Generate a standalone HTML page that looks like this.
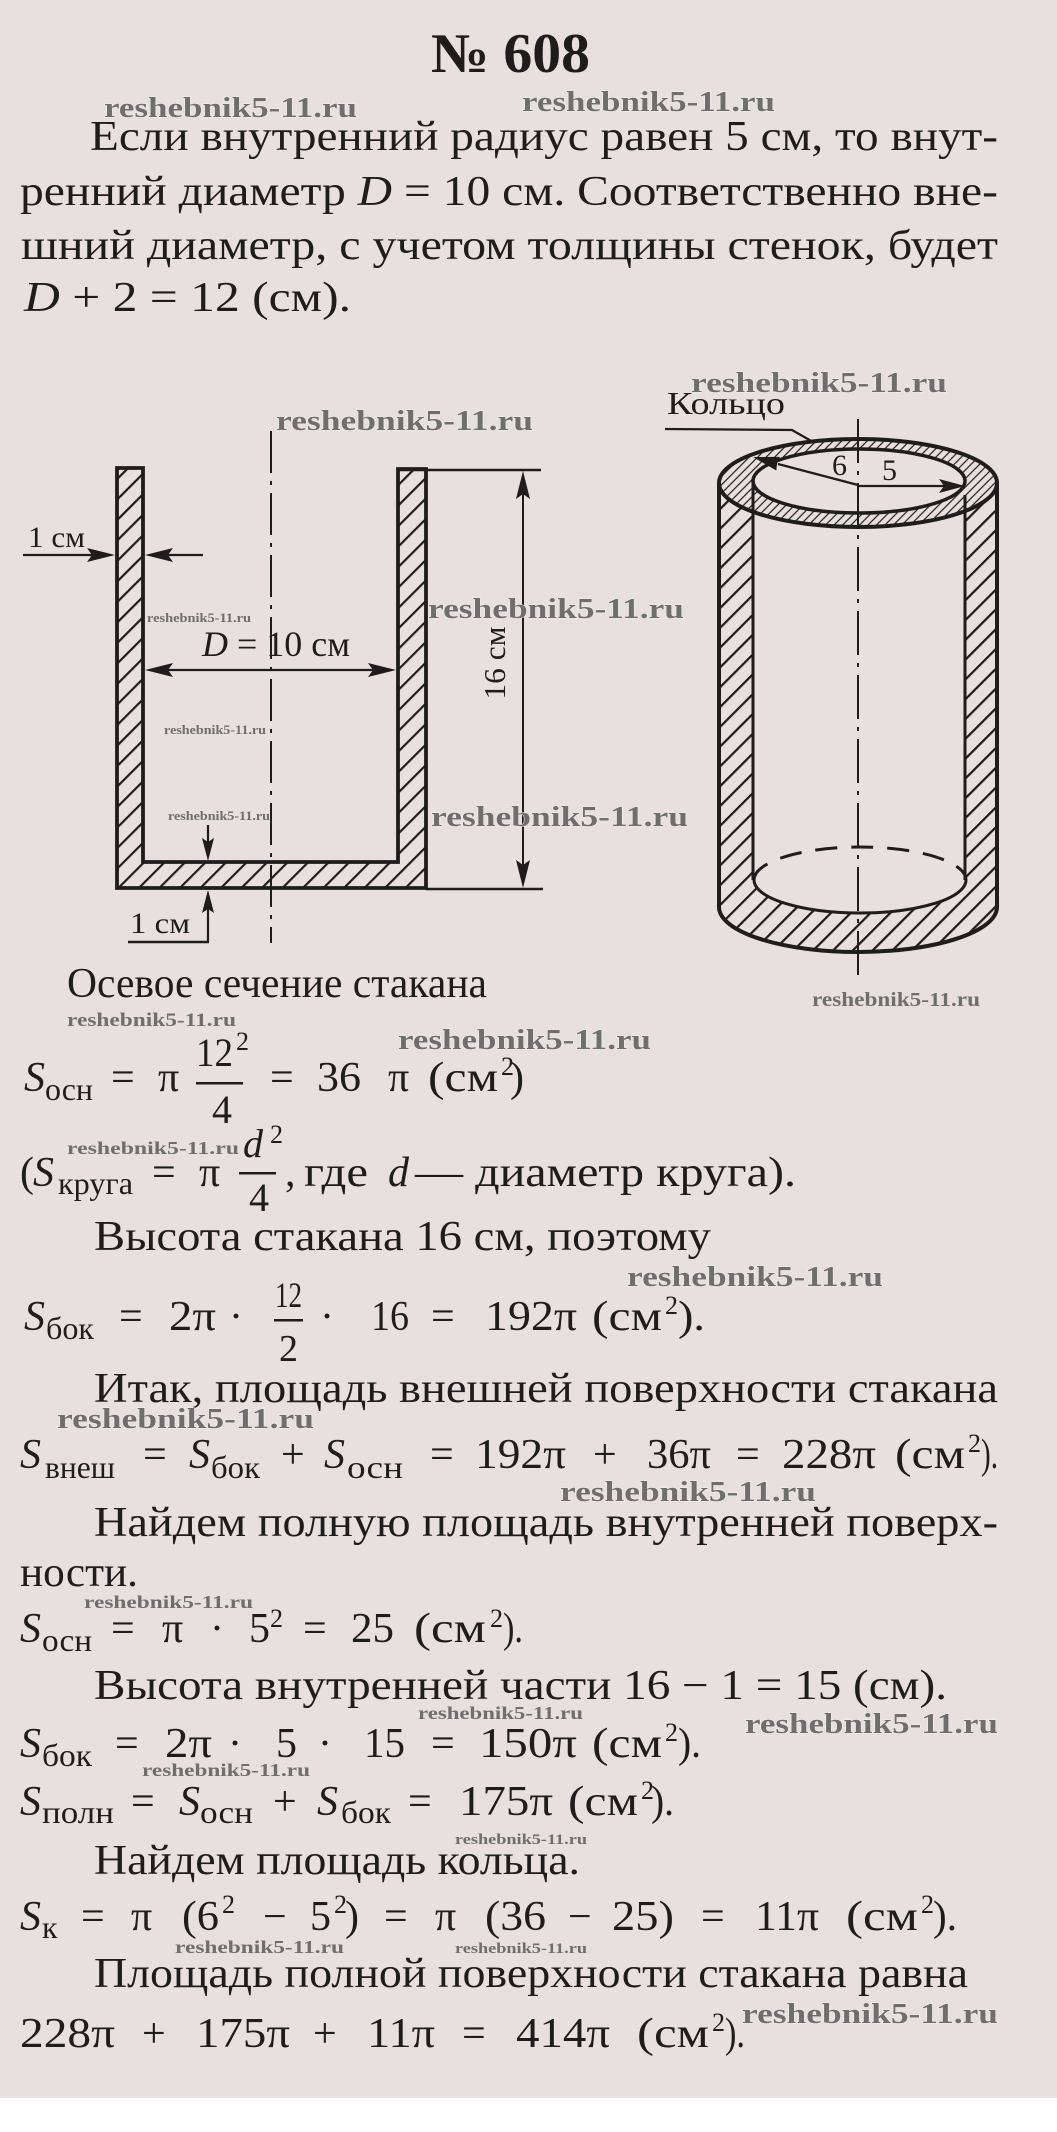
<!DOCTYPE html>
<html>
<head>
<meta charset="utf-8">
<style>
html,body{margin:0;padding:0;background:#e7e0de;}
svg{display:block;}
</style>
</head>
<body>
<svg width="1057" height="2132" viewBox="0 0 1057 2132" xmlns="http://www.w3.org/2000/svg" font-family="'Liberation Serif', serif">
<defs>
  <pattern id="h1" width="14.5" height="14.5" patternUnits="userSpaceOnUse" patternTransform="rotate(45)">
    <line x1="1" y1="0" x2="1" y2="14.5" stroke="#1e1c1c" stroke-width="2.4"/>
  </pattern>
  <pattern id="h2" width="14" height="14" patternUnits="userSpaceOnUse" patternTransform="rotate(45)">
    <line x1="1" y1="0" x2="1" y2="14" stroke="#1e1c1c" stroke-width="2.5"/>
  </pattern>
  <pattern id="h3" width="6" height="6" patternUnits="userSpaceOnUse" patternTransform="rotate(45)">
    <line x1="1" y1="0" x2="1" y2="6" stroke="#1e1c1c" stroke-width="1.2"/>
  </pattern>
  <mask id="wallMask" maskUnits="userSpaceOnUse" x="0" y="0" width="1057" height="2132">
    <path d="M719,483 L997,483 L997,907 A139,45 0 0 1 719,907 Z" fill="#fff"/>
    <ellipse cx="858" cy="483" rx="139" ry="44" fill="#000"/>
    <rect x="753" y="470" width="212" height="410" fill="#000"/>
    <ellipse cx="860" cy="880" rx="106" ry="33" fill="#000"/>
  </mask>
  <mask id="ringMask" maskUnits="userSpaceOnUse" x="0" y="0" width="1057" height="2132">
    <ellipse cx="858" cy="483" rx="139" ry="44" fill="#fff"/>
    <ellipse cx="859" cy="481" rx="106" ry="32" fill="#000"/>
  </mask>
</defs>

<rect x="0" y="0" width="1057" height="2132" fill="#e7e0de"/>
<rect x="0" y="2098" width="1057" height="34" fill="#ffffff"/>

<!-- ===== Left diagram ===== -->
<g stroke="#1e1c1c" fill="none">
  <polygon points="117,468 117,888 426,888 426,469 398,469 398,862 143,862 143,468" fill="url(#h1)" stroke-width="3.8" stroke-linejoin="miter"/>
  <line x1="398" y1="470" x2="541" y2="470" stroke-width="2.6"/>
  <line x1="426" y1="889" x2="543" y2="889" stroke-width="2.6"/>
  <line x1="523" y1="475" x2="523" y2="884" stroke-width="2"/>
  <line x1="271" y1="431" x2="271" y2="943" stroke-width="2" stroke-dasharray="42 8 4 8"/>
  <line x1="23" y1="555" x2="100" y2="555" stroke-width="2.2"/>
  <line x1="160" y1="555" x2="203" y2="555" stroke-width="2.2"/>
  <line x1="150" y1="670" x2="391" y2="670" stroke-width="2.2"/>
  <line x1="208" y1="825" x2="208" y2="846" stroke-width="2.2"/>
  <line x1="208" y1="905" x2="208" y2="942" stroke-width="2.2"/>
  <line x1="128" y1="942" x2="209" y2="942" stroke-width="2.6"/>
</g>
<g fill="#1e1c1c">
  <polygon points="115,555 87,548 92,555 87,562"/>
  <polygon points="145,555 173,548 168,555 173,562"/>
  <polygon points="145,670 173,663 168,670 173,677"/>
  <polygon points="396,670 368,663 373,670 368,677"/>
  <polygon points="523,471 516,499 523,494 530,499"/>
  <polygon points="523,888 516,860 523,865 530,860"/>
  <polygon points="208,861 202,838 208,842 214,838"/>
  <polygon points="208,890 202,913 208,909 214,913"/>
</g>
<g fill="#1e1c1c">
  <text x="28" y="547" font-size="30" textLength="57" lengthAdjust="spacingAndGlyphs">1 см</text>
  <text x="130" y="933" font-size="30" textLength="60" lengthAdjust="spacingAndGlyphs">1 см</text>
  <text x="202" y="656" font-size="36" textLength="148" lengthAdjust="spacingAndGlyphs"><tspan font-style="italic">D</tspan> = 10 см</text>
  <text transform="translate(505,663) rotate(-90)" x="0" y="0" font-size="31" text-anchor="middle" textLength="73" lengthAdjust="spacingAndGlyphs">16 см</text>
  <text x="67" y="997" font-size="42" textLength="420" lengthAdjust="spacingAndGlyphs">Осевое сечение стакана</text>
</g>

<!-- ===== Cylinder ===== -->
<rect x="700" y="420" width="320" height="560" fill="url(#h2)" mask="url(#wallMask)"/>
<rect x="700" y="420" width="320" height="130" fill="url(#h3)" mask="url(#ringMask)"/>
<g stroke="#1e1c1c" fill="none">
  <ellipse cx="858" cy="483" rx="139" ry="44" stroke-width="4"/>
  <ellipse cx="859" cy="481" rx="106" ry="32" stroke-width="3.5"/>
  <line x1="719" y1="483" x2="719" y2="907" stroke-width="4"/>
  <line x1="997" y1="483" x2="997" y2="907" stroke-width="4"/>
  <path d="M719,907 A139,45 0 0 0 997,907" stroke-width="4"/>
  <line x1="753" y1="481" x2="753" y2="880" stroke-width="3"/>
  <line x1="965" y1="495" x2="965" y2="880" stroke-width="3"/>
  <path d="M754,880 A106,33 0 0 1 966,880" stroke-width="3" stroke-dasharray="22 14"/>
  <path d="M754,880 A106,33 0 0 0 966,880" stroke-width="3"/>
  <line x1="858" y1="419" x2="858" y2="978" stroke-width="2" stroke-dasharray="44 8 4 8"/>
  <line x1="858" y1="485" x2="778" y2="464" stroke-width="2.2"/>
  <line x1="858" y1="486" x2="944" y2="486" stroke-width="2.2"/>
  <polyline points="665,429 792,430 813,442" stroke-width="2.2"/>
</g>
<g fill="#1e1c1c">
  <polygon points="753,457 779.9,456.9 777,464 776.3,470.5"/>
  <polygon points="965,486 939,479 944,486 939,493"/>
  <text x="667" y="414" font-size="32" textLength="118" lengthAdjust="spacingAndGlyphs">Кольцо</text>
  <text x="832" y="475" font-size="30">6</text>
  <text x="882" y="480" font-size="30">5</text>
</g>

<!-- ===== Text ===== -->
<g fill="#1e1c1c" font-size="42">
  <text x="431" y="72" font-size="56" font-weight="bold" textLength="159" lengthAdjust="spacingAndGlyphs">№ 608</text>

  <text x="90" y="150" textLength="908" lengthAdjust="spacingAndGlyphs">Если внутренний радиус равен  5 см, то внут-</text>
  <text x="20" y="205" textLength="978" lengthAdjust="spacingAndGlyphs">ренний диаметр <tspan font-style="italic">D</tspan> = 10 см. Соответственно вне-</text>
  <text x="21" y="259" textLength="977" lengthAdjust="spacingAndGlyphs">шний диаметр, с учетом толщины стенок, будет</text>
  <text x="24" y="311" textLength="327" lengthAdjust="spacingAndGlyphs"><tspan font-style="italic">D</tspan> + 2 = 12 (см).</text>

  <!-- F1 -->
  <text x="24" y="1091" font-style="italic">S</text>
  <text x="45" y="1100" font-size="32" textLength="48" lengthAdjust="spacingAndGlyphs">осн</text>
  <text x="111" y="1091">=</text>
  <text x="158" y="1091">π</text>
  <text x="196" y="1066" font-size="40" textLength="37" lengthAdjust="spacingAndGlyphs">12</text>
  <text x="236" y="1050" font-size="26">2</text>
  <rect x="196" y="1082" width="47" height="2.5"/>
  <text x="212" y="1123" font-size="40">4</text>
  <text x="270" y="1091">=</text>
  <text x="317" y="1091" textLength="44" lengthAdjust="spacingAndGlyphs">36</text>
  <text x="388" y="1091">π</text>
  <text x="428" y="1091" textLength="70" lengthAdjust="spacingAndGlyphs">(см</text>
  <text x="501" y="1075" font-size="26">2</text>
  <text x="510" y="1091">)</text>

  <!-- F2 -->
  <text x="20" y="1186">(</text>
  <text x="33" y="1186" font-style="italic">S</text>
  <text x="58" y="1194" font-size="32" textLength="75" lengthAdjust="spacingAndGlyphs">круга</text>
  <text x="152" y="1186">=</text>
  <text x="199" y="1186">π</text>
  <text x="243" y="1157" font-size="40" font-style="italic">d</text>
  <text x="270" y="1143" font-size="26">2</text>
  <rect x="239" y="1172" width="37" height="2.5"/>
  <text x="249" y="1211" font-size="40">4</text>
  <text x="285" y="1186">,</text>
  <text x="304" y="1186" textLength="64" lengthAdjust="spacingAndGlyphs">где</text>
  <text x="388" y="1186" font-style="italic">d</text>
  <text x="415" y="1186" textLength="381" lengthAdjust="spacingAndGlyphs">— диаметр круга).</text>

  <text x="94" y="1250" textLength="617" lengthAdjust="spacingAndGlyphs">Высота стакана 16 см, поэтому</text>

  <!-- F4 -->
  <text x="24" y="1330" font-style="italic">S</text>
  <text x="46" y="1339" font-size="32" textLength="48" lengthAdjust="spacingAndGlyphs">бок</text>
  <text x="119" y="1330">=</text>
  <text x="169" y="1330" textLength="47" lengthAdjust="spacingAndGlyphs">2π</text>
  <text x="229" y="1330">·</text>
  <text x="275" y="1307" font-size="36" textLength="27" lengthAdjust="spacingAndGlyphs">12</text>
  <rect x="274" y="1319" width="29" height="2.5"/>
  <text x="279" y="1361" font-size="38">2</text>
  <text x="320" y="1330">·</text>
  <text x="371" y="1330" textLength="38" lengthAdjust="spacingAndGlyphs">16</text>
  <text x="431" y="1330">=</text>
  <text x="485" y="1330" textLength="92" lengthAdjust="spacingAndGlyphs">192π</text>
  <text x="592" y="1330" textLength="70" lengthAdjust="spacingAndGlyphs">(см</text>
  <text x="665" y="1314" font-size="26">2</text>
  <text x="678" y="1330" textLength="27" lengthAdjust="spacingAndGlyphs">).</text>

  <text x="94" y="1402" textLength="904" lengthAdjust="spacingAndGlyphs">Итак, площадь внешней поверхности стакана</text>

  <!-- F5 -->
  <text x="20" y="1468" font-style="italic">S</text>
  <text x="45" y="1478" font-size="32" textLength="70" lengthAdjust="spacingAndGlyphs">внеш</text>
  <text x="143" y="1468">=</text>
  <text x="189" y="1468" font-style="italic">S</text>
  <text x="211" y="1478" font-size="32" textLength="49" lengthAdjust="spacingAndGlyphs">бок</text>
  <text x="281" y="1468">+</text>
  <text x="324" y="1468" font-style="italic">S</text>
  <text x="347" y="1478" font-size="32" textLength="56" lengthAdjust="spacingAndGlyphs">осн</text>
  <text x="430" y="1468">=</text>
  <text x="475" y="1468" textLength="91" lengthAdjust="spacingAndGlyphs">192π</text>
  <text x="593" y="1468">+</text>
  <text x="647" y="1468" textLength="64" lengthAdjust="spacingAndGlyphs">36π</text>
  <text x="736" y="1468">=</text>
  <text x="782" y="1468" textLength="94" lengthAdjust="spacingAndGlyphs">228π</text>
  <text x="895" y="1468" textLength="70" lengthAdjust="spacingAndGlyphs">(см</text>
  <text x="968" y="1452" font-size="26">2</text>
  <text x="981" y="1468" textLength="17" lengthAdjust="spacingAndGlyphs">).</text>

  <text x="94" y="1536" textLength="904" lengthAdjust="spacingAndGlyphs">Найдем полную площадь внутренней поверх-</text>
  <text x="20" y="1586" textLength="118" lengthAdjust="spacingAndGlyphs">ности.</text>

  <!-- F6 -->
  <text x="20" y="1642" font-style="italic">S</text>
  <text x="42" y="1651" font-size="32" textLength="50" lengthAdjust="spacingAndGlyphs">осн</text>
  <text x="111" y="1642">=</text>
  <text x="162" y="1642">π</text>
  <text x="210" y="1642">·</text>
  <text x="249" y="1642">5</text>
  <text x="270" y="1627" font-size="26">2</text>
  <text x="303" y="1642">=</text>
  <text x="351" y="1642" textLength="43" lengthAdjust="spacingAndGlyphs">25</text>
  <text x="414" y="1642" textLength="72" lengthAdjust="spacingAndGlyphs">(см</text>
  <text x="490" y="1627" font-size="26">2</text>
  <text x="503" y="1642" textLength="20" lengthAdjust="spacingAndGlyphs">).</text>

  <text x="94" y="1699" textLength="853" lengthAdjust="spacingAndGlyphs">Высота внутренней части 16 − 1 = 15 (см).</text>

  <!-- F7 -->
  <text x="20" y="1757" font-style="italic">S</text>
  <text x="42" y="1766" font-size="32" textLength="50" lengthAdjust="spacingAndGlyphs">бок</text>
  <text x="115" y="1757">=</text>
  <text x="165" y="1757" textLength="47" lengthAdjust="spacingAndGlyphs">2π</text>
  <text x="228" y="1757">·</text>
  <text x="276" y="1757">5</text>
  <text x="318" y="1757">·</text>
  <text x="364" y="1757" textLength="41" lengthAdjust="spacingAndGlyphs">15</text>
  <text x="431" y="1757">=</text>
  <text x="479" y="1757" textLength="98" lengthAdjust="spacingAndGlyphs">150π</text>
  <text x="592" y="1757" textLength="70" lengthAdjust="spacingAndGlyphs">(см</text>
  <text x="665" y="1741" font-size="26">2</text>
  <text x="678" y="1757" textLength="23" lengthAdjust="spacingAndGlyphs">).</text>

  <!-- F8 -->
  <text x="20" y="1815" font-style="italic">S</text>
  <text x="42" y="1823" font-size="32" textLength="72" lengthAdjust="spacingAndGlyphs">полн</text>
  <text x="131" y="1815">=</text>
  <text x="179" y="1815" font-style="italic">S</text>
  <text x="200" y="1823" font-size="32" textLength="53" lengthAdjust="spacingAndGlyphs">осн</text>
  <text x="273" y="1815">+</text>
  <text x="317" y="1815" font-style="italic">S</text>
  <text x="341" y="1823" font-size="32" textLength="50" lengthAdjust="spacingAndGlyphs">бок</text>
  <text x="408" y="1815">=</text>
  <text x="459" y="1815" textLength="94" lengthAdjust="spacingAndGlyphs">175π</text>
  <text x="568" y="1815" textLength="70" lengthAdjust="spacingAndGlyphs">(см</text>
  <text x="641" y="1799" font-size="26">2</text>
  <text x="651" y="1815" textLength="23" lengthAdjust="spacingAndGlyphs">).</text>

  <text x="94" y="1874" textLength="486" lengthAdjust="spacingAndGlyphs">Найдем площадь кольца.</text>

  <!-- F9 -->
  <text x="20" y="1930" font-style="italic">S</text>
  <text x="42" y="1938" font-size="32">к</text>
  <text x="81" y="1930">=</text>
  <text x="131" y="1930">π</text>
  <text x="182" y="1930" textLength="37" lengthAdjust="spacingAndGlyphs">(6</text>
  <text x="222" y="1913" font-size="26">2</text>
  <text x="263" y="1930">−</text>
  <text x="310" y="1930">5</text>
  <text x="334" y="1913" font-size="26">2</text>
  <text x="345" y="1930">)</text>
  <text x="384" y="1930">=</text>
  <text x="435" y="1930">π</text>
  <text x="485" y="1930" textLength="61" lengthAdjust="spacingAndGlyphs">(36</text>
  <text x="568" y="1930">−</text>
  <text x="612" y="1930" textLength="62" lengthAdjust="spacingAndGlyphs">25)</text>
  <text x="701" y="1930">=</text>
  <text x="755" y="1930" textLength="64" lengthAdjust="spacingAndGlyphs">11π</text>
  <text x="846" y="1930" textLength="72" lengthAdjust="spacingAndGlyphs">(см</text>
  <text x="921" y="1913" font-size="26">2</text>
  <text x="933" y="1930" textLength="24" lengthAdjust="spacingAndGlyphs">).</text>

  <text x="94" y="1987" textLength="874" lengthAdjust="spacingAndGlyphs">Площадь полной поверхности стакана равна</text>

  <!-- F10 -->
  <text x="20" y="2047" textLength="95" lengthAdjust="spacingAndGlyphs">228π</text>
  <text x="142" y="2047">+</text>
  <text x="196" y="2047" textLength="94" lengthAdjust="spacingAndGlyphs">175π</text>
  <text x="313" y="2047">+</text>
  <text x="367" y="2047" textLength="68" lengthAdjust="spacingAndGlyphs">11π</text>
  <text x="462" y="2047">=</text>
  <text x="516" y="2047" textLength="94" lengthAdjust="spacingAndGlyphs">414π</text>
  <text x="637" y="2047" textLength="72" lengthAdjust="spacingAndGlyphs">(см</text>
  <text x="712" y="2031" font-size="26">2</text>
  <text x="725" y="2047" textLength="20" lengthAdjust="spacingAndGlyphs">).</text>
</g>

<!-- ===== Watermarks ===== -->
<g font-weight="bold" fill="#6e6e6e" stroke="#f3efee" stroke-width="1" paint-order="stroke" font-size="28">
  <text x="104" y="117" textLength="253" lengthAdjust="spacingAndGlyphs">reshebnik5-11.ru</text>
  <text x="522" y="111" textLength="253" lengthAdjust="spacingAndGlyphs">reshebnik5-11.ru</text>
  <text x="691" y="392" textLength="256" lengthAdjust="spacingAndGlyphs">reshebnik5-11.ru</text>
  <text x="276" y="430" textLength="257" lengthAdjust="spacingAndGlyphs">reshebnik5-11.ru</text>
  <text x="428" y="618" textLength="256" lengthAdjust="spacingAndGlyphs">reshebnik5-11.ru</text>
  <text x="431" y="826" textLength="257" lengthAdjust="spacingAndGlyphs">reshebnik5-11.ru</text>
  <text x="398" y="1049" textLength="253" lengthAdjust="spacingAndGlyphs">reshebnik5-11.ru</text>
  <text x="627" y="1286" textLength="256" lengthAdjust="spacingAndGlyphs">reshebnik5-11.ru</text>
  <text x="57" y="1428" textLength="257" lengthAdjust="spacingAndGlyphs">reshebnik5-11.ru</text>
  <text x="560" y="1501" textLength="256" lengthAdjust="spacingAndGlyphs">reshebnik5-11.ru</text>
  <text x="745" y="1733" textLength="253" lengthAdjust="spacingAndGlyphs">reshebnik5-11.ru</text>
  <text x="742" y="2023" textLength="256" lengthAdjust="spacingAndGlyphs">reshebnik5-11.ru</text>
</g>
<g font-weight="bold" fill="#6e6e6e" stroke-width="0">
  <text x="147" y="622" font-size="13" textLength="104" lengthAdjust="spacingAndGlyphs">reshebnik5-11.ru</text>
  <text x="164" y="734" font-size="13" textLength="102" lengthAdjust="spacingAndGlyphs">reshebnik5-11.ru</text>
  <text x="168" y="820" font-size="13" textLength="102" lengthAdjust="spacingAndGlyphs">reshebnik5-11.ru</text>
  <text x="812" y="1006" font-size="20" textLength="168" lengthAdjust="spacingAndGlyphs">reshebnik5-11.ru</text>
  <text x="67" y="1026" font-size="19" textLength="169" lengthAdjust="spacingAndGlyphs">reshebnik5-11.ru</text>
  <text x="67" y="1154" font-size="18" textLength="172" lengthAdjust="spacingAndGlyphs">reshebnik5-11.ru</text>
  <text x="84" y="1608" font-size="18" textLength="169" lengthAdjust="spacingAndGlyphs">reshebnik5-11.ru</text>
  <text x="418" y="1719" font-size="18" textLength="165" lengthAdjust="spacingAndGlyphs">reshebnik5-11.ru</text>
  <text x="142" y="1776" font-size="18" textLength="168" lengthAdjust="spacingAndGlyphs">reshebnik5-11.ru</text>
  <text x="455" y="1844" font-size="15" textLength="132" lengthAdjust="spacingAndGlyphs">reshebnik5-11.ru</text>
  <text x="175" y="1953" font-size="18" textLength="169" lengthAdjust="spacingAndGlyphs">reshebnik5-11.ru</text>
  <text x="455" y="1953" font-size="15" textLength="132" lengthAdjust="spacingAndGlyphs">reshebnik5-11.ru</text>
</g>
</svg>
</body>
</html>
